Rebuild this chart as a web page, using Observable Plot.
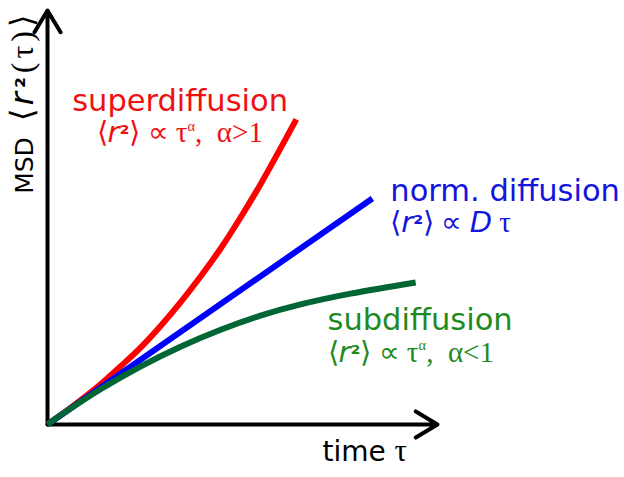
<!DOCTYPE html>
<html>
<head>
<meta charset="utf-8">
<script src="https://cdn.jsdelivr.net/npm/d3@7"></script>
<script src="https://cdn.jsdelivr.net/npm/@observablehq/plot@0.6"></script>
<style>
  html, body { margin: 0; padding: 0; background: #ffffff; }
  svg { display: block; }
</style>
</head>
<body>
<script>
// ---- data (arbitrary units: time 0..100, MSD 0..100) ----
const seriesNames = ["superdiffusion", "norm. diffusion", "subdiffusion"];
const seriesColors = ["#ff0000", "#0000ff", "#006633"];
const labelColors = ["#ee1111", "#1414dd", "#1f8a1f"];

const superTime = [0, 5.9, 13.6, 18.7, 23.8, 29.0, 34.1, 39.2, 44.4, 49.5, 54.6, 63.8];
const superMSD  = [0, 4.0, 9.7, 14.0, 18.5, 23.8, 29.5, 35.7, 42.5, 50.0, 58.0, 73.7];

const normTime = [0, 83.3];
const normMSD  = [0, 54.6];

const subTime = [0, 3.3, 13.6, 23.8, 34.1, 44.4, 54.6, 64.9, 77.7, 94.4];
const subMSD  = [0, 2.2, 8.5, 14.0, 18.8, 22.9, 26.3, 29.0, 31.6, 34.3];

const tMax = 100, msdMax = 100;

// formula texts as segments (plain text + styling hints)
const formulaSegments = [
  [{t: "⟨"}, {t: "r", it: true}, {t: "²", sq: true}, {t: "⟩ ∝ τ"}, {t: "α", sup: true}, {t: ",  α>1"}],
  [{t: "⟨"}, {t: "r", it: true}, {t: "²", sq: true}, {t: "⟩ ∝ "}, {t: "D", it: true}, {t: " τ"}],
  [{t: "⟨"}, {t: "r", it: true}, {t: "²", sq: true}, {t: "⟩ ∝ τ"}, {t: "α", sup: true}, {t: ",  α<1"}]
];
const axisTitleY = [{t: "MSD  "}, {t: "⟨", big: true}, {t: "r", it: true, big: true}, {t: "²", sq: true, big: true}, {t: "(τ)⟩", big: true}];
const axisTitleX = [{t: "time "}, {t: "τ", serif: true}];

// ---- build tables ----
const curves = [
  ...superTime.map((t, i) => ({series: seriesNames[0], t, msd: superMSD[i]})),
  ...normTime.map((t, i) => ({series: seriesNames[1], t, msd: normMSD[i]})),
  ...subTime.map((t, i) => ({series: seriesNames[2], t, msd: subMSD[i]}))
];
const plain = segs => segs.map(s => s.t).join("");

// annotation anchors (data units)
const titleAnchors = [
  {x: 34.0, y: 75.8, anchor: "middle"},
  {x: 87.9, y: 54.1, anchor: "start"},
  {x: 71.8, y: 22.9, anchor: "start"}
];
const formulaAnchors = [
  {x: 33.9, y: 68.2, anchor: "middle"},
  {x: 87.9, y: 46.4, anchor: "start"},
  {x: 71.8, y: 15.2, anchor: "start"}
];
const titles = seriesNames.map((s, i) => ({...titleAnchors[i], text: s, color: labelColors[i]}));
const formulas = formulaSegments.map((f, i) => ({...formulaAnchors[i], text: plain(f), color: labelColors[i], segs: f}));

const axes = [
  {x1: 0, y1: 0, x2: 0, y2: msdMax},
  {x1: 0, y1: 0, x2: tMax, y2: 0}
];

const sansFont = "DejaVu Sans, Verdana, sans-serif";
const serifFont = "Liberation Serif, Times New Roman, serif";

const isMiddle = d => d.anchor === "middle";
const isStart = d => d.anchor === "start";

const chart = Plot.plot({
  width: 624,
  height: 477,
  margin: 0,
  style: {background: "#ffffff"},
  x: {domain: [0, tMax], range: [47, 437], axis: null},
  y: {domain: [0, msdMax], range: [424, 10], axis: null},
  color: {domain: seriesNames, range: seriesColors},
  marks: [
    Plot.arrow(axes, {x1: "x1", y1: "y1", x2: "x2", y2: "y2", stroke: "#000", strokeWidth: 4, headLength: 9.5, headAngle: 62, strokeLinejoin: "miter"}),
    Plot.line(curves, {x: "t", y: "msd", z: "series", stroke: "series", strokeWidth: 6, curve: "catmull-rom", strokeLinecap: "butt"}),
    Plot.text(titles, {filter: isMiddle, x: "x", y: "y", text: "text", fill: "color", textAnchor: "middle", fontSize: 30.5, fontFamily: sansFont, lineAnchor: "bottom"}),
    Plot.text(titles, {filter: isStart, x: "x", y: "y", text: "text", fill: "color", textAnchor: "start", fontSize: 30.5, fontFamily: sansFont, lineAnchor: "bottom"}),
    Plot.text(formulas, {filter: isMiddle, x: "x", y: "y", text: "text", fill: "color", textAnchor: "middle", fontSize: 29, fontFamily: serifFont, lineAnchor: "bottom"}),
    Plot.text(formulas, {filter: isStart, x: "x", y: "y", text: "text", fill: "color", textAnchor: "start", fontSize: 29, fontFamily: serifFont, lineAnchor: "bottom"}),
    Plot.text([{x: 70.5, y: -8.7, text: plain(axisTitleX)}], {x: "x", y: "y", text: "text", fill: "#000", textAnchor: "start", fontSize: 28, fontFamily: sansFont, lineAnchor: "bottom"}),
    Plot.text([{x: -3.6, y: 77.8, text: plain(axisTitleY)}], {x: "x", y: "y", text: "text", fill: "#000", rotate: -90, textAnchor: "middle", fontSize: 25, fontFamily: sansFont, lineAnchor: "bottom"})
  ]
});

document.body.appendChild(chart);

// ---- rich text post-processing (tspans for italics / superscripts) ----
function richify(el, segs) {
  const sel = d3.select(el);
  const base = parseFloat(el.getAttribute("font-size")) || parseFloat(getComputedStyle(el).fontSize) || 26;
  sel.selectAll("*").remove();
  sel.text(null);
  let shifted = 0;
  segs.forEach(s => {
    const ts = sel.append("tspan").text(s.t);
    const size = s.big ? base * 1.28 : base;
    if (s.big) ts.attr("font-size", size).attr("font-family", serifFont).attr("letter-spacing", 4);
    if (s.it) ts.attr("font-style", "italic").attr("font-family", sansFont);
    if (s.sq) ts.attr("font-family", sansFont).attr("font-weight", "bold").attr("font-size", size * 0.78);
    if (s.serif) ts.attr("font-family", serifFont).attr("font-size", size * 1.1);
    if (s.sup) {
      ts.attr("font-size", size * 0.5).attr("dy", -size * 0.4);
      shifted = size * 0.4;
    } else if (shifted) {
      ts.attr("dy", shifted);
      shifted = 0;
    }
  });
}

const allTexts = Array.from(chart.querySelectorAll("text"));
const rich = [
  ...formulas.map(f => ({str: f.text, segs: f.segs})),
  {str: plain(axisTitleX), segs: axisTitleX},
  {str: plain(axisTitleY), segs: axisTitleY}
];
allTexts.forEach(el => {
  const m = rich.find(r => r.str === el.textContent);
  if (m) richify(el, m.segs);
});
</script>
</body>
</html>
